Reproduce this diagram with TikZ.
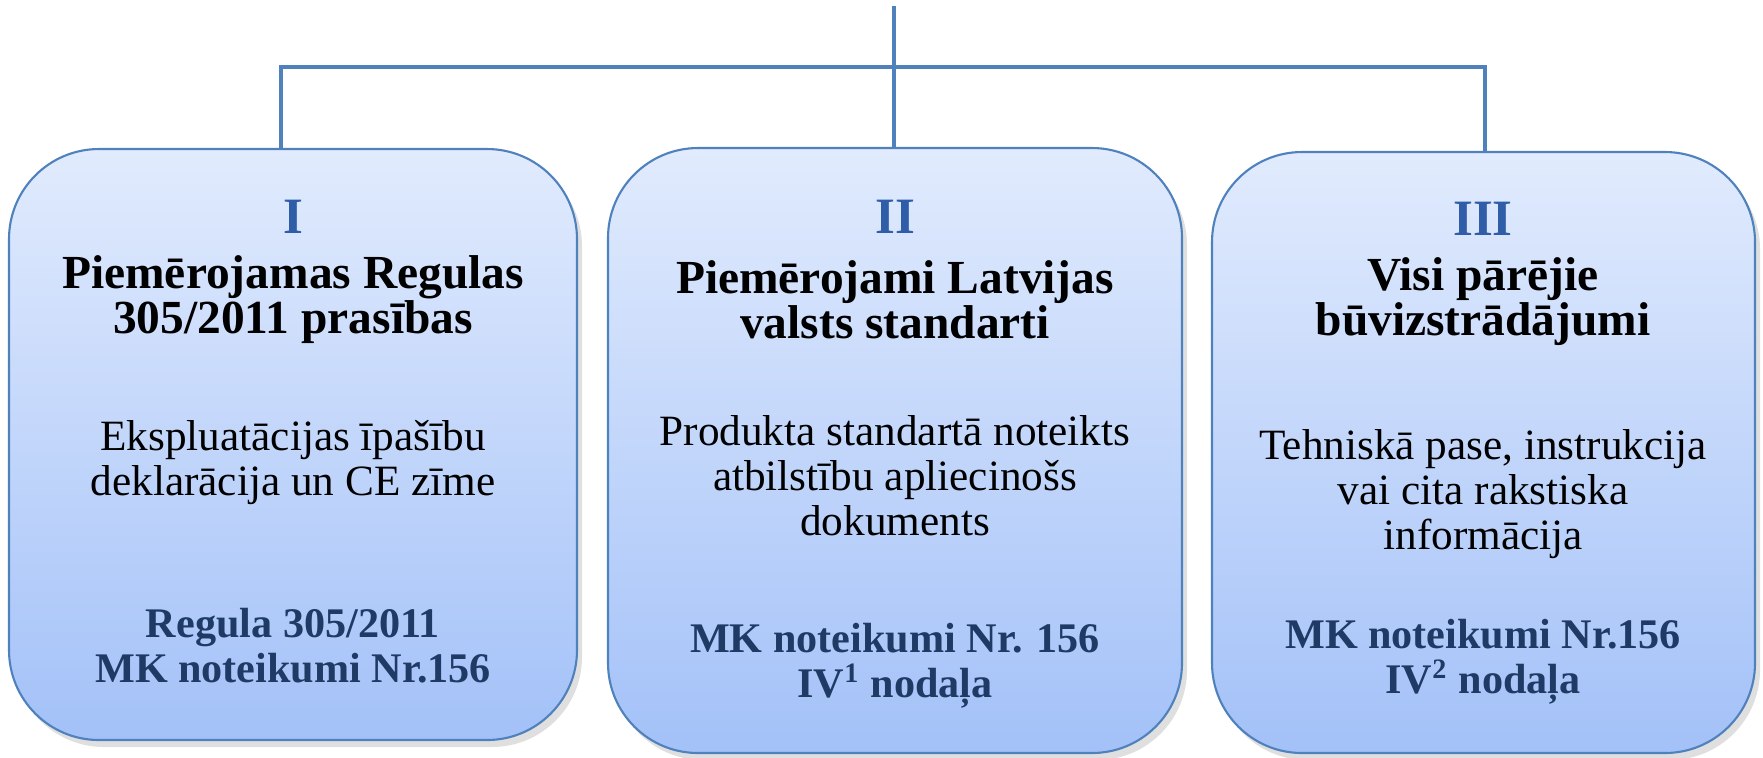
\documentclass[tikz,border=0pt]{standalone}
\usepackage{fontspec}
\setmainfont{Liberation Serif}
\usetikzlibrary{shadows}
\definecolor{linkblue}{HTML}{4F81BD}
\definecolor{boxtop}{HTML}{E1EBFD}
\definecolor{boxbot}{HTML}{A3C1F8}
\definecolor{navy}{HTML}{1F3A64}
\definecolor{numblue}{HTML}{2F5DA8}
\tikzset{
  groupbox/.style={draw=linkblue, line width=0.6pt, rounded corners=9mm, inner sep=0pt,
    top color=boxtop, bottom color=boxbot,
    drop shadow={opacity=0.25, shadow xshift=0.5mm, shadow yshift=-0.7mm}},
  link/.style={draw=linkblue, line width=1.3pt},
  numeral/.style={inner sep=0pt, text=numblue, font=\fontsize{14.5}{15}\selectfont\bfseries},
  heading/.style={inner sep=0pt, align=center, font=\fontsize{13.5}{12.8}\selectfont\bfseries},
  detail/.style={inner sep=0pt, align=center, font=\fontsize{12.3}{12.8}\selectfont},
  legal/.style={inner sep=0pt, align=center, text=navy, font=\fontsize{12}{12.8}\selectfont\bfseries},
}
\begin{document}
\begin{tikzpicture}[x=0.1mm, y=-0.1mm]
  \useasboundingbox (0,0) rectangle (1763,757);
  \node[groupbox, minimum width=56.8mm, minimum height=59.1mm] (reg) at (293,444.5) {};
  \node[groupbox, minimum width=57.4mm, minimum height=60.5mm] (lvs) at (895,450.5) {};
  \node[groupbox, minimum width=54.3mm, minimum height=60.1mm] (other) at (1483.5,452.5) {};
  % connectors
  \coordinate (top) at (894,6);
  \coordinate (barL) at (281,67);
  \coordinate (barR) at (1485,67);
  \draw[link] (top) -- (top |- lvs.north);
  \draw[link] (barL |- reg.north) -- (barL) -- (barR) -- (barR |- other.north);
  % first box
  \node[numeral] (num1) at (293,217) {I};
  \node[heading] (head1) at (293,300) {Piemērojamas Regulas\\305/2011 prasības};
  \node[detail] (det1) at (293,463) {Ekspluatācijas īpašību\\deklarācija un CE zīme};
  \node[legal] (law1) at (293,646) {Regula 305/2011\\MK noteikumi Nr.156};
  % second box
  \node[numeral] (num2) at (895,217) {II};
  \node[heading] (head2) at (895,300) {Piemērojami Latvijas\\valsts standarti};
  \node[detail] (det2) at (895,476) {Produkta standartā noteikts\\atbilstību apliecinošs\\dokuments};
  \node[legal] (law2) at (895,666) {MK noteikumi Nr. 156\\IV\textsuperscript{1} nodaļa};
  % third box
  \node[numeral] (num3) at (1483,219) {III};
  \node[heading] (head3) at (1483,302) {Visi pārējie\\būvizstrādājumi};
  \node[detail] (det3) at (1483,494) {Tehniskā pase, instrukcija\\vai cita rakstiska\\informācija};
  \node[legal] (law3) at (1483,662) {MK noteikumi Nr.156\\IV\textsuperscript{2} nodaļa};
\end{tikzpicture}
\end{document}
